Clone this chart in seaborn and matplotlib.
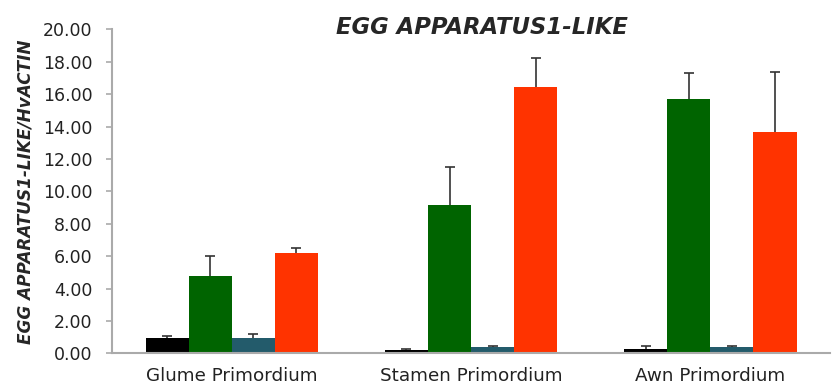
import matplotlib
matplotlib.use("Agg")
import matplotlib.pyplot as plt
import seaborn as sns
import pandas as pd
import numpy as np

tissues = ["Glume Primordium", "Stamen Primordium", "Awn Primordium"]
series = ["S1", "S2", "S3", "S4"]
colors = ["#000000", "#006400", "#235B6B", "#FF3300"]

# expression means per series (rows) across tissues (columns)
means = [
    [0.97, 0.22, 0.28],
    [4.77, 9.17, 15.69],
    [0.97, 0.38, 0.38],
    [6.18, 16.43, 13.65],
]
# upper error (standard error) per series across tissues
errors = [
    [0.11, 0.05, 0.18],
    [1.27, 2.34, 1.61],
    [0.25, 0.10, 0.10],
    [0.31, 1.81, 3.73],
]
yticks = [0, 2, 4, 6, 8, 10, 12, 14, 16, 18, 20]

rows = []
for s, vals, errs in zip(series, means, errors):
    for t, v, e in zip(tissues, vals, errs):
        rows.append({"tissue": t, "series": s, "value": v, "err": e})
df = pd.DataFrame(rows)

sns.set_style("white")
plt.rcParams["font.family"] = ["DejaVu Sans"]

fig = plt.figure(figsize=(8.33, 3.88), dpi=100)
ax = fig.add_axes([0.1345, 0.089, 0.862, 0.835])

sns.barplot(data=df, x="tissue", y="value", hue="series", order=tissues,
            hue_order=series, palette=colors, width=0.72, errorbar=None,
            saturation=1, linewidth=0, legend=False, ax=ax, zorder=2)

# one-sided (upper) error bars placed on each drawn bar
for patch, (_, row) in zip(ax.patches, df.iterrows()):
    xc = patch.get_x() + patch.get_width() / 2
    top = patch.get_height()
    _, caps, _ = ax.errorbar(xc, top, yerr=[[0], [row["err"]]], fmt="none",
                             ecolor="#333333", elinewidth=1.2, capsize=3.5,
                             capthick=1.2, zorder=1)
    caps[0].set_visible(False)  # no cap on the lower (zero-length) side

ax.set_ylim(0, 20)
ax.set_xlim(-0.5, 2.5)
ax.set_yticks(yticks)
ax.set_yticklabels([f"{v:.2f}" for v in yticks], fontsize=12.5, color="#222222")
ax.tick_params(axis="y", length=4, width=1.2, color="#aaaaaa", pad=10, left=True)
ax.tick_params(axis="x", length=0, pad=10, labelsize=13.2, labelcolor="#222222")
ax.set_xlabel("")
ax.set_ylabel("EGG APPARATUS1-LIKE/HvACTIN", fontsize=12.2,
              fontweight="bold", fontstyle="italic", labelpad=6)

for side in ["top", "right"]:
    ax.spines[side].set_visible(False)
for side in ["left", "bottom"]:
    ax.spines[side].set_color("#aaaaaa")
    ax.spines[side].set_linewidth(1.5)

fig.text(0.578, 0.93, "EGG APPARATUS1-LIKE", fontsize=16.4, fontweight="bold",
         fontstyle="italic", ha="center", va="center")

fig.savefig("out.png", dpi=100)
